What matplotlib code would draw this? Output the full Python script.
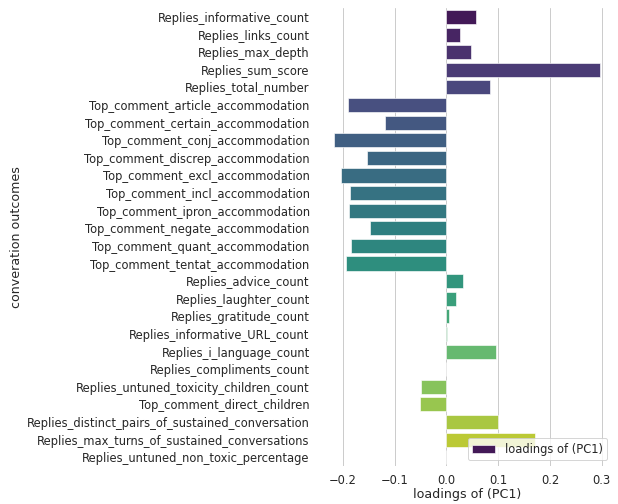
import matplotlib
matplotlib.use("Agg")
import matplotlib.pyplot as plt
import seaborn as sns
import numpy as np

categories = [
    "Replies_informative_count",
    "Replies_links_count",
    "Replies_max_depth",
    "Replies_sum_score",
    "Replies_total_number",
    "Top_comment_article_accommodation",
    "Top_comment_certain_accommodation",
    "Top_comment_conj_accommodation",
    "Top_comment_discrep_accommodation",
    "Top_comment_excl_accommodation",
    "Top_comment_incl_accommodation",
    "Top_comment_ipron_accommodation",
    "Top_comment_negate_accommodation",
    "Top_comment_quant_accommodation",
    "Top_comment_tentat_accommodation",
    "Replies_advice_count",
    "Replies_laughter_count",
    "Replies_gratitude_count",
    "Replies_informative_URL_count",
    "Replies_i_language_count",
    "Replies_compliments_count",
    "Replies_untuned_toxicity_children_count",
    "Top_comment_direct_children",
    "Replies_distinct_pairs_of_sustained_conversation",
    "Replies_max_turns_of_sustained_conversations",
    "Replies_untuned_non_toxic_percentage",
]
loadings = [
    0.058, 0.026, 0.047, 0.296, 0.084,
    -0.191, -0.119, -0.217, -0.154, -0.203, -0.187, -0.188, -0.148, -0.185, -0.195,
    0.031, 0.019, 0.004, 0.0005, 0.095, 0.0, -0.050, -0.052, 0.100, 0.171, 0.0,
]

sns.set_theme(style="whitegrid")
plt.rcParams['font.family'] = ['DejaVu Sans']

fig = plt.figure(figsize=(618/72, 504/72), dpi=72)
ax = fig.add_axes([0.519, 0.0754, 0.473, 0.9083])

colors = sns.color_palette("viridis", len(categories), desat=0.75)
y = np.arange(len(categories))
ax.barh(y, loadings, height=0.8, color=colors, edgecolor="white", linewidth=0.6,
        label="loadings of (PC1)")
ax.set_yticks(y)
ax.set_yticklabels(categories)
ax.set_ylim(len(categories) - 0.5, -0.5)
ax.set_xlim(-0.243, 0.322)
ax.set_xticks([-0.2, -0.1, 0.0, 0.1, 0.2, 0.3])
ax.yaxis.grid(False)
ax.tick_params(axis='x', labelsize=11.55, pad=2)
ax.tick_params(axis='y', labelsize=11.55, pad=5)
ax.set_xlabel("loadings of (PC1)", fontsize=12.6, labelpad=1)
ax.set_ylabel("converation outcomes", fontsize=12.6)
for s in ax.spines.values():
    s.set_visible(False)
ax.legend(loc="lower right", fontsize=11.55)

fig.savefig("out.png", dpi=72)
